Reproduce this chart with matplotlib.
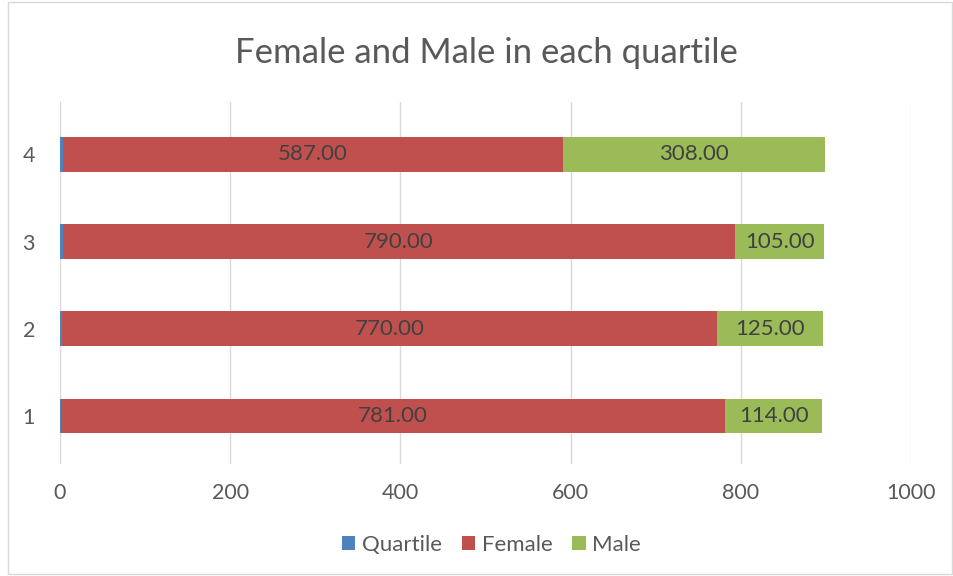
import numpy as np
import matplotlib.pyplot as plt
from matplotlib.patches import Rectangle

plt.rcParams['font.family'] = ['Lato', 'DejaVu Sans']

# data
quartiles = [1, 2, 3, 4]
quartile_vals = [1, 2, 3, 4]
female = [781, 770, 790, 587]
male = [114, 125, 105, 308]

c_q, c_f, c_m = '#4F81BD', '#C0504D', '#9BBB59'
txt = '#595959'

fig = plt.figure(figsize=(9.54, 5.76), dpi=100)
ax = fig.add_axes([60/954, 112/576, 851/954, 362/576])

y = np.array(quartiles)
q = np.array(quartile_vals)
f = np.array(female)
m = np.array(male)

ax.barh(y, q, height=0.4, color=c_q, label='Quartile')
bf = ax.barh(y, f, left=q, height=0.4, color=c_f, label='Female')
bm = ax.barh(y, m, left=q + f, height=0.4, color=c_m, label='Male')

ax.bar_label(bf, labels=[f'{v:.2f}' for v in female], label_type='center',
             color='#404040', fontsize=16)
ax.bar_label(bm, labels=[f'{v:.2f}' for v in male], label_type='center',
             color='#404040', fontsize=16)

ax.set_xlim(0, 1000)
ax.set_ylim(0.45, 4.6)
ax.set_xticks(range(0, 1001, 200))
ax.set_yticks(quartiles)
ax.tick_params(length=0, labelsize=15.5, labelcolor=txt)
ax.tick_params(axis='y', pad=18)
ax.tick_params(axis='x', pad=14)
ax.grid(axis='x', color='#D9D9D9', linewidth=1)
ax.set_axisbelow(True)
for s in ax.spines.values():
    s.set_visible(False)

fig.suptitle('Female and Male in each quartile', x=0.51, y=0.935, fontsize=25,
             color=txt)

fig.legend(loc='center', bbox_to_anchor=(0.515, 0.054), ncol=3, frameon=False,
           fontsize=16, labelcolor=txt, handlelength=0.6, handleheight=0.6,
           handletextpad=0.3, columnspacing=0.9)

fig.patches.append(Rectangle((8/954, 2/576), 944/954, 572/576,
                             transform=fig.transFigure, fill=False,
                             edgecolor='#D9D9D9', linewidth=1))

fig.savefig('out.png', dpi=100)
